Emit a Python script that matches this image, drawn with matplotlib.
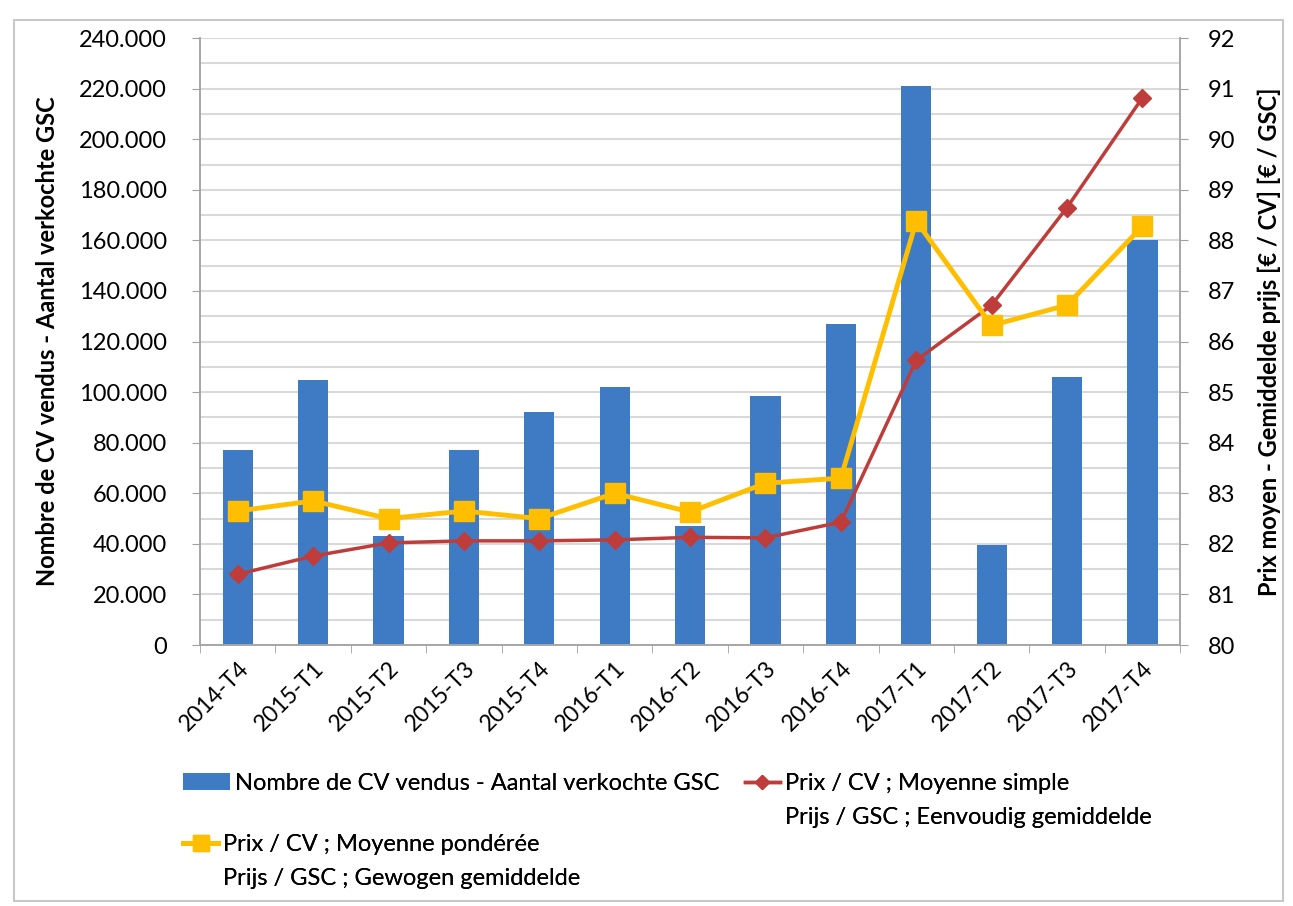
import numpy as np
import matplotlib.pyplot as plt
from matplotlib.lines import Line2D
from matplotlib.patches import Rectangle
from matplotlib.ticker import FuncFormatter, MultipleLocator

plt.rcParams['font.family'] = ['Lato', 'DejaVu Sans']

quarters = ['2014-T4', '2015-T1', '2015-T2', '2015-T3', '2015-T4', '2016-T1', '2016-T2',
            '2016-T3', '2016-T4', '2017-T1', '2017-T2', '2017-T3', '2017-T4']
volumes = [77000, 105000, 43000, 77000, 92000, 102000, 47000,
           98500, 127000, 221000, 39500, 106000, 160000]
price_simple = [81.40, 81.76, 82.02, 82.06, 82.06, 82.08, 82.13,
                82.12, 82.43, 85.63, 86.72, 88.65, 90.82]
price_weighted = [82.65, 82.85, 82.50, 82.65, 82.50, 83.00, 82.63,
                  83.20, 83.30, 88.38, 86.32, 86.72, 88.28]

label_bars = 'Nombre de CV vendus - Aantal verkochte GSC'
label_simple = ['Prix / CV ; Moyenne simple', 'Prijs / GSC ; Eenvoudig gemiddelde']
label_weighted = ['Prix / CV ; Moyenne pondérée', 'Prijs / GSC ; Gewogen gemiddelde']

blue = '#3f7bc4'
red = '#be3d3a'
yellow = '#ffbf00'

fig = plt.figure(figsize=(12.93, 9.06), dpi=100)
fig.patches.append(Rectangle((0.011, 0.006), 0.981, 0.972, transform=fig.transFigure,
                             fill=False, edgecolor='#c8c8c8', linewidth=1.5))
ax = fig.add_axes([0.1547, 0.288, 0.758, 0.670])
x = np.arange(len(quarters))

ax.set_axisbelow(True)
ax.yaxis.set_minor_locator(MultipleLocator(10000))
ax.grid(axis='y', which='both', color='#d9d9d9', linewidth=1.5)
bars = ax.bar(x, volumes, width=0.4, color=blue, zorder=2)
ax.set_ylim(0, 240000)
ax.set_xlim(-0.5, len(quarters) - 0.5)
ax.set_yticks(np.arange(0, 240001, 20000))
ax.yaxis.set_major_formatter(FuncFormatter(lambda v, p: '0' if v == 0 else f'{v/1000:.0f}.000'))
ax.tick_params(axis='y', which='minor', length=0)
ax.tick_params(axis='y', which='major', labelsize=17, length=6, color='#a0a0a0', pad=18)
ax.set_xticks(x)
ax.set_xticklabels(quarters, rotation=45, ha='right', rotation_mode='anchor', fontsize=16.5)
ax.set_xticks(np.arange(-0.5, len(quarters), 1), minor=True)
ax.tick_params(axis='x', which='major', length=0, pad=9)
ax.tick_params(axis='x', which='minor', length=6, color='#a0a0a0')
for s in ['left', 'right', 'bottom']:
    ax.spines[s].set_color('#a6a6a6')
    ax.spines[s].set_linewidth(1.2)
ax.spines['top'].set_visible(False)
ax.set_ylabel('Nombre de CV vendus - Aantal verkochte GSC', fontsize=17, fontweight='bold', labelpad=14)

ax2 = ax.twinx()
l_simple, = ax2.plot(x, price_simple, color=red, linewidth=2.5, marker='D', markersize=9,
                     markeredgecolor=red)
l_weighted, = ax2.plot(x, price_weighted, color=yellow, linewidth=3.5, marker='s', markersize=15)
ax2.set_ylim(80, 92)
ax2.set_yticks(np.arange(80, 93, 1))
ax2.tick_params(axis='y', labelsize=17, length=6, color='#a0a0a0', pad=14)
for s in ['left', 'right', 'bottom']:
    ax2.spines[s].set_color('#a6a6a6')
    ax2.spines[s].set_linewidth(1.2)
ax2.spines['top'].set_visible(False)
ax2.set_ylabel('Prix moyen - Gemiddelde prijs [€ / CV] [€ / GSC]', fontsize=17, fontweight='bold', labelpad=16)

# legend in Excel style: handle next to the first line of each two-line label
blank = Line2D([], [], linestyle='none')
leg_opts = dict(loc='upper left', frameon=False, fontsize=17, borderpad=0,
                borderaxespad=0, labelspacing=0.55, handletextpad=0.2)
leg1 = fig.legend([bars], [label_bars], bbox_to_anchor=(0.1415, 0.1468),
                  handlelength=2.0, **leg_opts)
leg2 = fig.legend([l_simple, blank], label_simple, bbox_to_anchor=(0.576, 0.1468),
                  handlelength=1.5, **leg_opts)
leg3 = fig.legend([l_weighted, blank], label_weighted, bbox_to_anchor=(0.1415, 0.0795),
                  handlelength=1.5, **leg_opts)
leg2.legend_handles[0].set_markersize(7)
leg3.legend_handles[0].set_markersize(12)
for lg in (leg1, leg2, leg3):
    fig.add_artist(lg)

fig.savefig('out.png', dpi=100)
